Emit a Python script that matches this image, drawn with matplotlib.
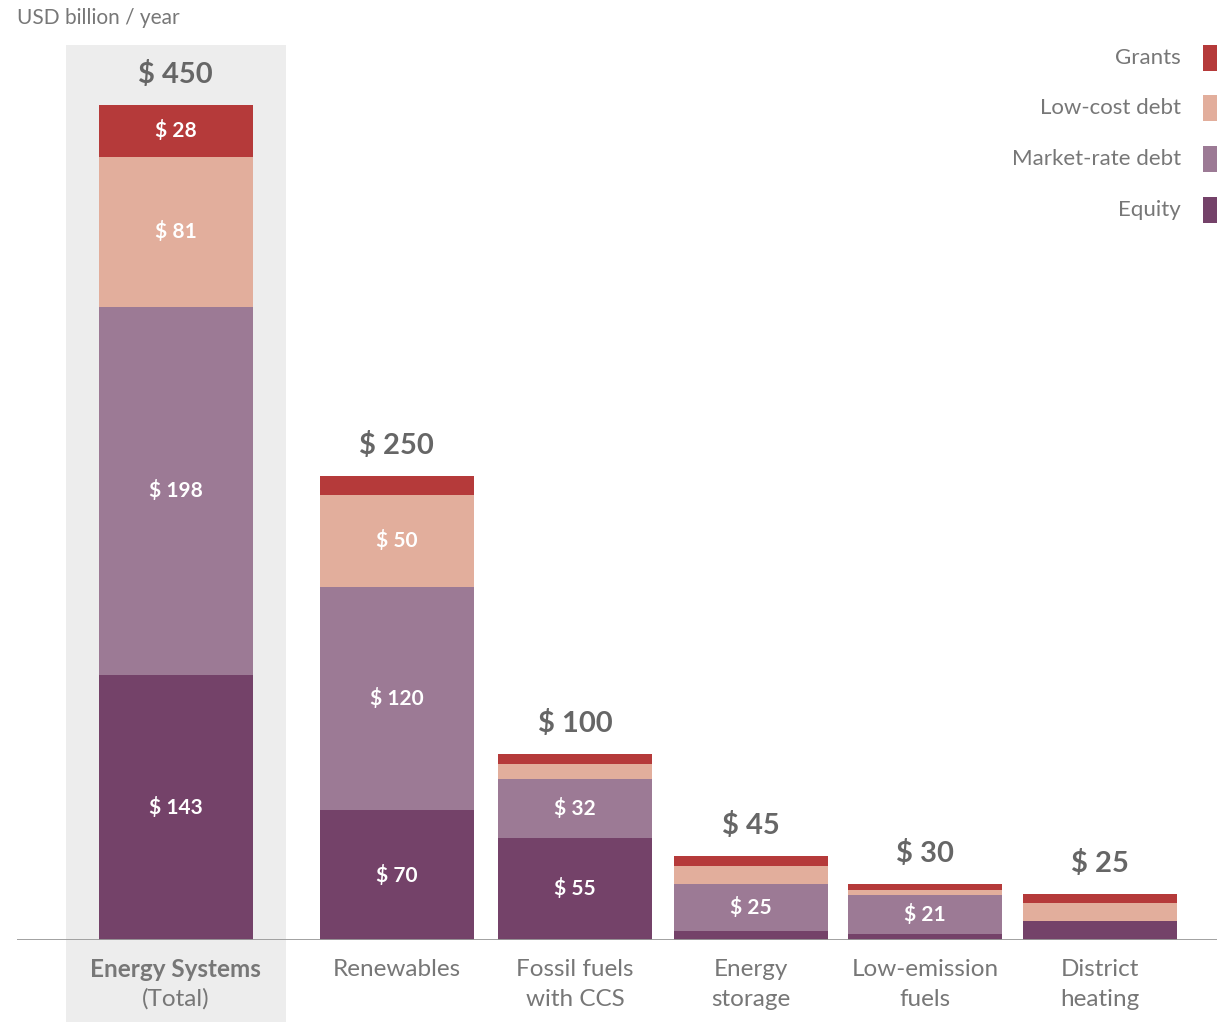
import matplotlib
matplotlib.use('Agg')
import matplotlib.pyplot as plt
from matplotlib.patches import Rectangle
import numpy as np

plt.rcParams['font.family'] = ['Lato', 'DejaVu Sans']

# data (USD billion / year)
categories = ['Energy Systems', 'Renewables', 'Fossil fuels\nwith CCS', 'Energy\nstorage',
              'Low-emission\nfuels', 'District\nheating']
totals = [450, 250, 100, 45, 30, 25]
equity = [143, 70, 55, 5, 3, 10]
market_rate = [198, 120, 32, 25, 21, 0]
low_cost = [81, 50, 8, 10, 3, 10]
grants = [28, 10, 5, 5, 3, 5]

series = [('Equity', equity, '#744269'),
          ('Market-rate debt', market_rate, '#9c7a95'),
          ('Low-cost debt', low_cost, '#e2ae9c'),
          ('Grants', grants, '#b53a3a')]

W, H = 1217, 1022
fig = plt.figure(figsize=(W / 100, H / 100), dpi=100)

# axes: x from px 17 to 1217, baseline at px 940, top at px 40
ppu = 1.856  # px per value unit
ymax = 900 / ppu
ax = fig.add_axes([17 / W, (H - 940) / H, 1200 / W, 900 / H])
ax.set_xlim((17 - 175.5) / 176, (1217 - 175.5) / 176)
ax.set_ylim(0, ymax)
ax.axis('off')

x = np.array([0, 1.256, 2.27, 3.27, 4.26, 5.25])
width = 0.875

# grey band behind the total bar
ax.add_patch(Rectangle((-0.625, -82 / ppu), 1.25, (1022 - 45) / ppu,
                       facecolor='#ededed', edgecolor='none', clip_on=False, zorder=0))

bottom = np.zeros(len(categories))
for name, vals, col in series:
    vals = np.array(vals, dtype=float)
    ax.bar(x, vals, width, bottom=bottom, color=col, edgecolor='none', zorder=2)
    for xi, b, v in zip(x, bottom, vals):
        if v >= 20:
            ax.text(xi, b + v / 2, f'$ {int(v)}', ha='center', va='center', color='white',
                    fontsize=15, fontweight='bold', zorder=3)
    bottom += vals

for xi, t in zip(x, totals):
    ax.annotate(f'$ {t}', (xi, t), xytext=(0, 22), textcoords='offset points',
                ha='center', va='center', fontsize=21, fontweight='bold', color='#666666')

# baseline
ax.axhline(0, color='#9a9a9a', linewidth=1.3, zorder=4)

# category labels
line1 = -29 / ppu
line2 = -59 / ppu
for i, (xi, cat) in enumerate(zip(x, categories)):
    parts = cat.split('\n')
    if i == 0:
        ax.text(xi, line1, parts[0], ha='center', va='center', fontsize=17.5,
                fontweight='bold', color='#777777', clip_on=False)
        ax.text(xi, line2, '(Total)', ha='center', va='center', fontsize=17.5,
                color='#777777', clip_on=False)
    else:
        for j, p in enumerate(parts):
            ax.text(xi, [line1, line2][j], p, ha='center', va='center', fontsize=17.5,
                    color='#777777', clip_on=False)

# units label
fig.text(17 / W, 1 - 18 / H, 'USD billion / year', ha='left', va='center',
         fontsize=15, color='#777777')

# legend (drawn manually, squares run off the right edge)
leg_y = [58, 108, 159, 210]
for (name, vals, col), yc in zip(series[::-1], leg_y):
    fig.patches.append(Rectangle((1203 / W, 1 - (yc + 13) / H), 26 / W, 26 / H,
                                 facecolor=col, edgecolor='none',
                                 transform=fig.transFigure, figure=fig))
    fig.text(1181 / W, 1 - yc / H, name, ha='right', va='center', fontsize=16,
             color='#777777')

fig.savefig('out.png', dpi=100)
